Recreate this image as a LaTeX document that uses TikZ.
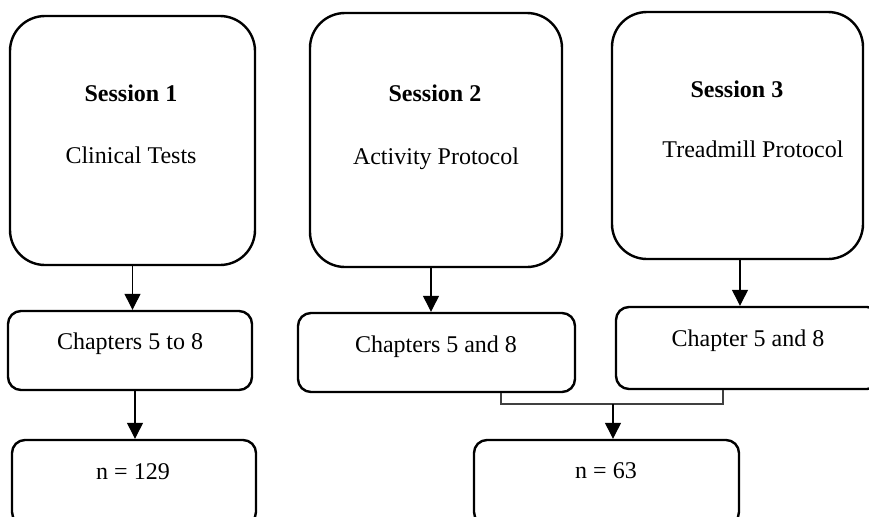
\documentclass[tikz,border=0pt]{standalone}
\usepackage{fontspec}
\setmainfont{Liberation Serif}
\usetikzlibrary{arrows.meta}
\tikzset{
  bigbox/.style={draw, line width=1.2pt, rounded corners=17.5pt, inner sep=0pt},
  smallbox/.style={draw, line width=1.2pt, rounded corners=6.5pt, inner sep=0pt},
  lbl/.style={anchor=base, inner sep=0pt, font=\fontsize{12pt}{14pt}\selectfont},
  arr/.style={draw, line width=0.6pt, -{Triangle[width=8pt,length=8pt]}},
  bracket/.style={draw=black!75, line width=0.6pt}
}
\begin{document}
\begin{tikzpicture}[x=0.5pt,y=-0.5pt]
\useasboundingbox (0,0) rectangle (869,516);
\clip (0,0) rectangle (869,516);
% session boxes
\node[bigbox, minimum width=122.5pt, minimum height=124.5pt] (s1) at (132.5,140.5) {};
\node[bigbox, minimum width=126pt, minimum height=127pt] (s2) at (436,140) {};
\node[bigbox, minimum width=125.5pt, minimum height=123.5pt] (s3) at (737.5,135.5) {};
\node[lbl] (s1a) at (131,101) {\textbf{Session 1}};
\node[lbl] (s1b) at (131,163) {Clinical Tests};
\node[lbl] (s2a) at (435,101) {\textbf{Session 2}};
\node[lbl] (s2b) at (436,164) {Activity Protocol};
\node[lbl] (s3a) at (737,97) {\textbf{Session 3}};
\node[lbl] (s3b) at (753,157) {Treadmill Protocol};
% chapter boxes
\node[smallbox, minimum width=122pt, minimum height=39.5pt] (c1) at (130,350.5) {};
\node[smallbox, minimum width=138.5pt, minimum height=39.5pt] (c2) at (436.5,352.5) {};
\node[smallbox, minimum width=132pt, minimum height=41pt] (c3) at (748,348) {};
\node[lbl] (c1t) at (130,349) {Chapters 5 to 8};
\node[lbl] (c2t) at (436,352) {Chapters 5 and 8};
\node[lbl] (c3t) at (748,346) {Chapter 5 and 8};
% n boxes
\node[smallbox, minimum width=122pt, minimum height=42.5pt] (n1) at (134,482.5) {};
\node[smallbox, minimum width=132.5pt, minimum height=42.5pt] (n2) at (606.5,482.5) {};
\node[lbl] (n1t) at (133,479) {n = 129};
\node[lbl] (n2t) at (606,478) {n = 63};
% arrows
\draw[arr] (s1.south) -- (s1.south |- c1.north);
\draw[arr] (c1.south -| 135,0) -- (n1.north -| 135,0);
\draw[arr] (s2.south -| 431,0) -- (c2.north -| 431,0);
\draw[arr] (s3.south -| 740,0) -- (c3.north -| 740,0);
% bracket
\coordinate (bl) at (501,392);
\coordinate (br) at (723,389);
\coordinate (bm) at (613,404);
\draw[bracket] (c2.south -| bl) |- (bm) -| (c3.south -| br);
\draw[arr] (bm) -- (bm |- n2.north);
\end{tikzpicture}
\end{document}
